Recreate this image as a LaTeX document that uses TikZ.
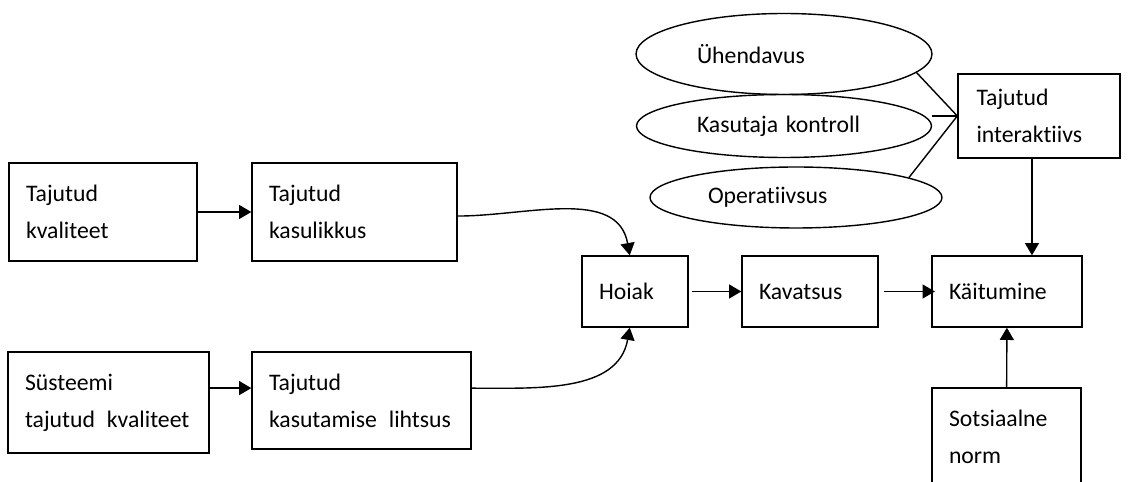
\documentclass[tikz,border=0pt]{standalone}
\usepackage{fontspec}
\setmainfont{Carlito}[Ligatures=NoCommon]
\usetikzlibrary{arrows.meta}
\usetikzlibrary{shapes.geometric}

\begin{document}
\begin{tikzpicture}[x=0.02cm, y=-0.02cm, line width=0.8pt,
  >={Triangle[length=7pt,width=8pt]},
  every node/.style={font=\fontsize{13.5}{21}\selectfont},
  factor/.style={rectangle,draw,align=left,inner xsep=0.34cm,inner ysep=0pt},
  trait/.style={ellipse,draw,align=left,inner sep=0pt}]

  \useasboundingbox (0,0) rectangle (1144,482);

  \node[factor,minimum width=3.76cm,minimum height=1.96cm,text width=3.08cm] (kvaliteet)   at (103,212)     {Tajutud\\kvaliteet};
  \node[factor,minimum width=4.1cm,minimum height=1.96cm,text width=3.42cm]  (kasulikkus)  at (354.5,212)   {Tajutud\\kasulikkus};
  \node[factor,minimum width=4.02cm,minimum height=2.02cm,text width=3.34cm] (systeem)     at (108.5,402.5) {Süsteemi\\\mbox{tajutud\hspace{0.5em}kvaliteet}};
  \node[factor,minimum width=4.38cm,minimum height=1.94cm,text width=3.7cm]  (lihtsus)     at (361.5,400.5) {Tajutud\\\mbox{kasutamise\hspace{0.5em}lihtsus}};
  \node[factor,minimum width=2.12cm,minimum height=1.42cm,text width=1.44cm] (hoiak)       at (635,291.5)   {Hoiak};
  \node[factor,minimum width=2.72cm,minimum height=1.42cm,text width=2.04cm] (kavatsus)    at (810,291.5)   {Kavatsus};
  \node[factor,minimum width=3.0cm,minimum height=1.42cm,text width=2.32cm]  (kaitumine)   at (1007,291.5)  {Käitumine};
  \node[factor,minimum width=2.98cm,minimum height=1.96cm,text width=2.3cm]  (norm)        at (1006.5,437)  {Sotsiaalne\\norm};
  \node[factor,minimum width=3.24cm,minimum height=1.68cm,text width=2.5cm,inner xsep=0.37cm] (interaktiivs) at (1039,116) {Tajutud\\interaktiivs};

  \node[trait,minimum width=5.92cm,minimum height=1.62cm,text width=3.48cm] (uhendavus)    at (784,54)      {Ühendavus};
  \node[trait,minimum width=5.9cm,minimum height=1.26cm,text width=3.48cm]  (kontroll)     at (784,126)     {Kasutaja~kontroll};
  \node[trait,minimum width=5.84cm,minimum height=1.22cm,text width=3.52cm] (operatiivsus) at (796,197.5)   {Operatiivsus};

  \draw[->] (kvaliteet) -- (kasulikkus);
  \draw[->] ([yshift=8.2pt]systeem.east) coordinate (s1) -- (s1 -| lihtsus.west);
  \draw[->] ([yshift=-2.3pt]kasulikkus.east) to[out=0,in=100] ([xshift=-3pt]hoiak.north);
  \draw[->] ([yshift=7pt]lihtsus.east) to[out=0,in=-100] ([xshift=-3pt]hoiak.south);
  \draw[->,shorten <=2pt] (hoiak) -- (kavatsus);
  \draw[->,shorten <=3pt,shorten >=-2pt] (kavatsus) -- (kaitumine);
  \draw[->] ([xshift=-4pt]interaktiivs.south) coordinate (i1) -- (i1 |- kaitumine.north);
  \draw[->] (norm) -- (kaitumine);

  \draw (interaktiivs.west) -- (uhendavus.-8);
  \draw (interaktiivs.west) -- (interaktiivs.west -| kontroll.east);
  \draw (interaktiivs.west) -- (operatiivsus.10);
\end{tikzpicture}
\end{document}
